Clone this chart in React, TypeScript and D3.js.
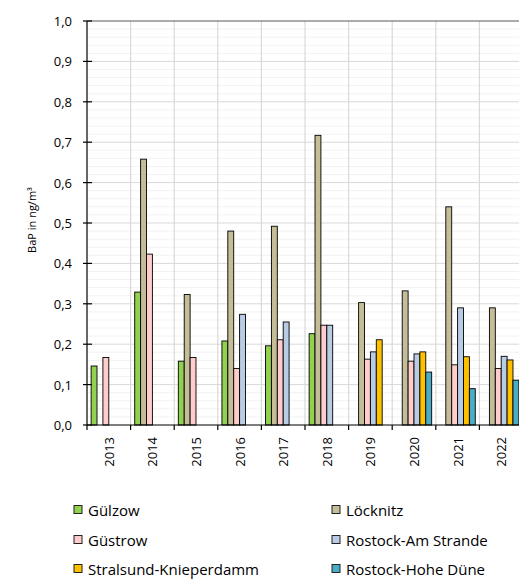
import React from "react";
import * as d3 from "d3";

const years = ["2013", "2014", "2015", "2016", "2017", "2018", "2019", "2020", "2021", "2022"];
const stations = [
  "Gülzow",
  "Löcknitz",
  "Güstrow",
  "Rostock-Am Strande",
  "Stralsund-Knieperdamm",
  "Rostock-Hohe Düne",
];
const stationColors = ["#92D050", "#C4BD97", "#FFCCCC", "#B8CCE4", "#FFC000", "#4BACC6"];

// BaP annual means in ng/m³ per station, one entry per year (null = no measurement)
const guelzow = [0.146, 0.329, 0.158, 0.208, 0.196, 0.226, null, null, null, null];
const loecknitz = [null, 0.658, 0.323, 0.48, 0.492, 0.717, 0.303, 0.332, 0.54, 0.29];
const guestrow = [0.167, 0.423, 0.167, 0.14, 0.211, 0.247, 0.163, 0.158, 0.149, 0.14];
const amStrande = [null, null, null, 0.274, 0.255, 0.247, 0.181, 0.176, 0.29, 0.17];
const knieperdamm = [null, null, null, null, null, null, 0.211, 0.181, 0.169, 0.161];
const hoheDuene = [null, null, null, null, null, null, null, 0.131, 0.09, 0.111];
const seriesValues = [guelzow, loecknitz, guestrow, amStrande, knieperdamm, hoheDuene];

const yTicks = [0, 0.1, 0.2, 0.3, 0.4, 0.5, 0.6, 0.7, 0.8, 0.9, 1.0];
const yTitle = "BaP in ng/m³";

const W = 519;
const H = 579;
const left = 87;
const top = 21;
const bottom = 425;
const right = 523;
const font = "'Open Sans', 'DejaVu Sans', sans-serif";

export default function App() {
  const x = d3.scaleBand<string>().domain(years).range([left, right]).padding(0);
  const xInner = d3
    .scaleBand<string>()
    .domain(stations)
    .range([0, x.bandwidth()])
    .paddingInner(0)
    .paddingOuter(0.7);
  const y = d3.scaleLinear().domain([0, 1]).range([bottom, top]);
  const minorTicks = d3.range(0, 1.0001, 0.02).filter((v) => Math.round(v * 100) % 10 !== 0);
  const fmt = (v: number) => d3.format(".1f")(v).replace(".", ",");

  const legendRows = [
    [0, 1],
    [2, 3],
    [4, 5],
  ];
  const legendY = [510, 540, 569];
  const legendX = [74, 332];

  return (
    <svg
      width={W}
      height={H}
      style={{ position: "absolute", left: 0, top: 0, background: "#fff", fontFamily: font }}
    >
      <rect x={0} y={0} width={W} height={H} fill="#fff" />
      {/* minor grid */}
      {minorTicks.map((v) => (
        <line key={"mi" + v} x1={left} x2={right} y1={y(v)} y2={y(v)} stroke="#f2f2f2" strokeWidth={1} />
      ))}
      {/* major grid */}
      {yTicks.slice(1, -1).map((v) => (
        <line key={"ma" + v} x1={left} x2={right} y1={y(v)} y2={y(v)} stroke="#d9d9d9" strokeWidth={1} />
      ))}
      {/* vertical grid at category boundaries */}
      {years.slice(1).map((yr) => (
        <line key={"vg" + yr} x1={x(yr)!} x2={x(yr)!} y1={top} y2={bottom} stroke="#d9d9d9" strokeWidth={1.2} />
      ))}
      {/* top border */}
      <line x1={left} x2={right} y1={top} y2={top} stroke="#595959" strokeWidth={1.2} />

      {/* bars */}
      {seriesValues.map((vals, si) =>
        vals.map((v, yi) =>
          v == null ? null : (
            <rect
              key={`b${si}-${yi}`}
              x={x(years[yi])! + xInner(stations[si])!}
              y={y(v)}
              width={xInner.bandwidth()}
              height={bottom - y(v)}
              fill={stationColors[si]}
              stroke="#000"
              strokeWidth={0.9}
            />
          )
        )
      )}

      {/* y axis */}
      <line x1={left} x2={left} y1={top} y2={bottom} stroke="#000" strokeWidth={1.2} />
      {yTicks.map((v) => (
        <g key={"yt" + v}>
          <line x1={left - 4} x2={left + 5} y1={y(v)} y2={y(v)} stroke="#000" strokeWidth={1.2} />
          <text x={72} y={y(v)} textAnchor="end" dominantBaseline="central" fontSize={13} fill="#000">
            {fmt(v)}
          </text>
        </g>
      ))}

      {/* x axis */}
      <line x1={left} x2={right} y1={bottom} y2={bottom} stroke="#000" strokeWidth={1.2} />
      {years.map((yr) => (
        <line key={"xt" + yr} x1={x(yr)!} x2={x(yr)!} y1={bottom} y2={bottom + 5} stroke="#000" strokeWidth={1.2} />
      ))}
      {years.map((yr) => {
        const cx = x(yr)! + x.bandwidth() / 2;
        return (
          <text
            key={"xl" + yr}
            transform={`translate(${cx},${437}) rotate(-90)`}
            textAnchor="end"
            dominantBaseline="central"
            fontSize={13}
            fill="#000"
          >
            {yr}
          </text>
        );
      })}

      {/* y axis title */}
      <text
        transform={`translate(${31},${220}) rotate(-90)`}
        textAnchor="middle"
        dominantBaseline="central"
        fontSize={11}
        fill="#000"
      >
        {yTitle}
      </text>

      {/* legend */}
      {legendRows.map((row, ri) =>
        row.map((si, ci) => (
          <g key={"lg" + si}>
            <rect
              x={legendX[ci]}
              y={legendY[ri] - 4.5}
              width={8}
              height={8}
              fill={stationColors[si]}
              stroke="#222"
              strokeWidth={1}
            />
            <text
              x={legendX[ci] + 14}
              y={legendY[ri]}
              dominantBaseline="central"
              fontSize={15}
              fill="#000"
            >
              {stations[si]}
            </text>
          </g>
        ))
      )}
    </svg>
  );
}
